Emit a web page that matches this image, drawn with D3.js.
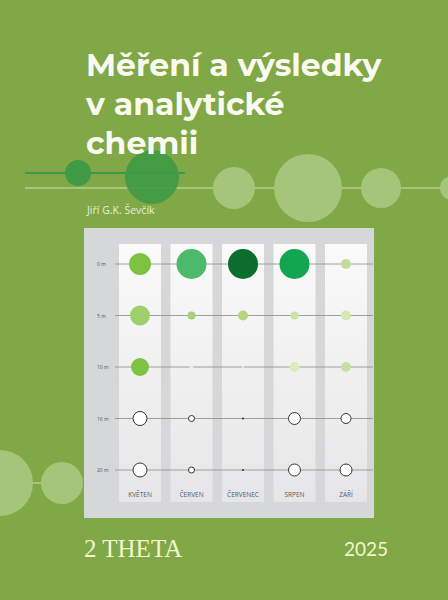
<!DOCTYPE html>
<html><head><meta charset="utf-8">
<script src="https://cdn.jsdelivr.net/npm/d3@7"></script>
<style>body{margin:0;background:#80a846}</style>
</head><body><div id="container"></div>
<script>
let w = 448, h = 600;

// DATA
let months = ["KVĚTEN", "ČERVEN", "ČERVENEC", "SRPEN", "ZÁŘÍ"];
let depths = ["0 m", "5 m", "10 m", "16 m", "20 m"];
let sizes = [
  [11, 15, 15, 15, 5],
  [10, 4, 5, 4, 5],
  [9, 2, 1, 5, 5],
  [7, 3, 1, 6, 5],
  [7, 3, 1, 6, 6]
];
let colors = [
  ["#7dc242", "#4cba6a", "#0b6e2f", "#12a650", "#c3dc9a"],
  ["#9dd06a", "#a6d174", "#b4d67f", "#cde3a5", "#d6e8b3"],
  ["#7dc242", "#e5efd0", "#f0f3e8", "#dcecbb", "#c8e0a6"],
  ["#fff", "#fff", "#333", "#fff", "#fff"],
  ["#fff", "#fff", "#333", "#fff", "#fff"]
];
let titleLines = ["Měření a výsledky", "v analytické", "chemii"];

let viz = d3.select("#container").append("svg")
    .attr("width", w).attr("height", h)
    .style("background-color", "#80a846");

// decorative circles
viz.append("line").attr("x1", 25).attr("x2", 448).attr("y1", 188).attr("y2", 188)
  .attr("stroke", "#a5c57b").attr("stroke-width", 2);
[[234, 21], [308, 34], [381, 20], [452, 12]].forEach(function(c) {
  viz.append("circle").attr("cx", c[0]).attr("cy", 188).attr("r", c[1]).attr("fill", "#a5c57b");
});
viz.append("line").attr("x1", 25).attr("x2", 185).attr("y1", 173).attr("y2", 173)
  .attr("stroke", "#3f9a45").attr("stroke-width", 2);
viz.append("circle").attr("cx", 78).attr("cy", 173).attr("r", 13).attr("fill", "#3f9a45");
viz.append("circle").attr("cx", 152).attr("cy", 177).attr("r", 27).attr("fill", "#3f9a45").attr("opacity", 0.9);
viz.append("line").attr("x1", 0).attr("x2", 62).attr("y1", 483).attr("y2", 483)
  .attr("stroke", "#a5c57b").attr("stroke-width", 2);
viz.append("circle").attr("cx", 0).attr("cy", 483).attr("r", 33).attr("fill", "#a5c57b");
viz.append("circle").attr("cx", 62).attr("cy", 483).attr("r", 21).attr("fill", "#a5c57b");

// title
viz.selectAll(".title").data(titleLines).enter().append("text")
  .attr("x", 86).attr("y", function(d, i) { return 76 + i * 39; })
  .attr("fill", "#fafaf0").attr("font-family", "Montserrat, 'Open Sans', sans-serif")
  .attr("font-weight", "bold").attr("font-size", 31.5).text(function(d) { return d; });
viz.append("text").attr("x", 87).attr("y", 214).attr("fill", "#e8eedc")
  .attr("font-family", "'Open Sans', sans-serif").attr("font-size", 10.5).text("Jiří G.K. Ševčík");

// panel
viz.append("rect").attr("x", 84).attr("y", 228).attr("width", 290).attr("height", 290).attr("fill", "#d6d7d9");

let xScale = d3.scalePoint().domain(months).range([140, 346]);
let yScale = d3.scalePoint().domain(depths).range([264, 470]);
let rScale = d3.scaleLinear().domain([0, 15]).range([0, 15]);

let grad = viz.append("defs").append("linearGradient").attr("id", "g").attr("x1", 0).attr("x2", 0).attr("y1", 0).attr("y2", 1);
grad.append("stop").attr("offset", 0).attr("stop-color", "#fafafa");
grad.append("stop").attr("offset", 1).attr("stop-color", "#e6e6e8");

viz.selectAll(".strip").data(months).enter().append("rect")
  .attr("x", function(d) { return xScale(d) - 21; }).attr("y", 244)
  .attr("width", 42).attr("height", 258).attr("fill", "url(#g)");

viz.selectAll(".grid").data(depths).enter().append("line")
  .attr("x1", 115).attr("x2", 373)
  .attr("y1", function(d) { return yScale(d); }).attr("y2", function(d) { return yScale(d); })
  .attr("stroke", "#8a8a8a").attr("stroke-width", 0.8);
viz.selectAll(".dl").data(depths).enter().append("text")
  .attr("x", 97).attr("y", function(d) { return yScale(d) + 2; })
  .attr("font-family", "'Open Sans', sans-serif").attr("font-size", 5).attr("fill", "#555")
  .text(function(d) { return d; });
viz.selectAll(".ml").data(months).enter().append("text")
  .attr("x", function(d) { return xScale(d); }).attr("y", 497).attr("text-anchor", "middle")
  .attr("font-family", "'Open Sans', sans-serif").attr("font-size", 6.5).attr("fill", "#5a5a5a")
  .text(function(d) { return d; });

let cells = [];
depths.forEach(function(dp, i) {
  months.forEach(function(m, j) {
    cells.push({depth: dp, month: m, size: sizes[i][j], color: colors[i][j], row: i});
  });
});
viz.selectAll(".dot").data(cells).enter().append("circle")
  .attr("cx", function(d) { return xScale(d.month); })
  .attr("cy", function(d) { return yScale(d.depth); })
  .attr("r", function(d) { return rScale(d.size); })
  .attr("fill", function(d) { return d.color; })
  .attr("stroke", function(d) { return d.row >= 3 && d.color == "#fff" ? "#333" : "none"; })
  .attr("stroke-width", 1);

// footer
viz.append("text").attr("x", 84).attr("y", 557).attr("fill", "#f2f7cf")
  .attr("font-family", "'Liberation Serif', serif").attr("font-size", 25).text("2 THETA");
viz.append("text").attr("x", 388).attr("y", 556).attr("text-anchor", "end").attr("fill", "#f2f7cf")
  .attr("font-family", "Lato, sans-serif").attr("font-size", 19).text("2025");
</script></body></html>
